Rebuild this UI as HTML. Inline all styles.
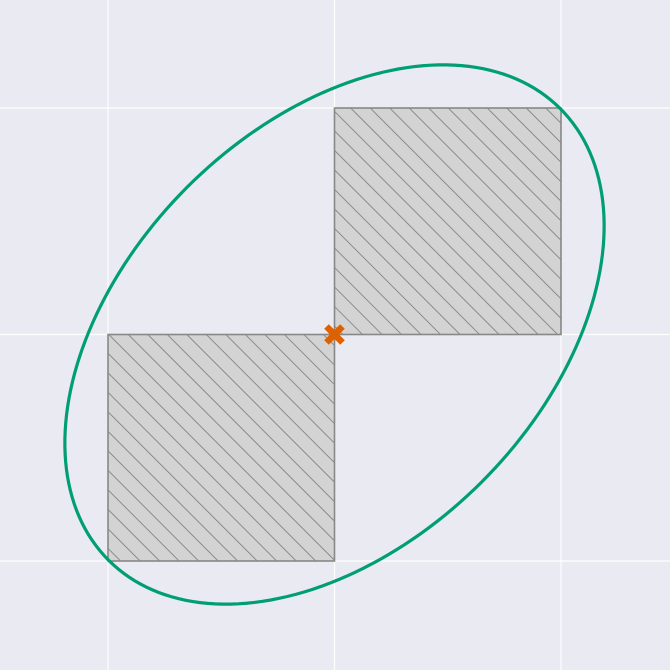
<!DOCTYPE html>
<html><head><meta charset="utf-8"><style>html,body{margin:0;padding:0;background:#eaeaf2}svg{display:block}</style></head>
<body>
<svg id="chart" width="670" height="670" viewBox="0 0 670 670" xmlns="http://www.w3.org/2000/svg">
<defs>
<pattern id="hatch" patternUnits="userSpaceOnUse" width="13.8" height="13.8" patternTransform="translate(350,108) rotate(-45)">
<rect width="13.8" height="13.8" fill="#d3d3d3"/>
<line x1="0" y1="0" x2="0" y2="13.8" stroke="#7f7f7f" stroke-width="1.7"/>
</pattern>
</defs>
<rect x="0" y="0" width="670" height="670" fill="#eaeaf2"/>
<g id="grid"></g>
<g id="marks"></g>
</svg>
<script>
const gridTicks = [-1, 0, 1];
const squaresX0 = [-1, 0];
const squaresY0 = [-1, 0];
const squareSize = [1, 1];
const ellipseCenter = [0, 0];
const ellipseAxes = [1.41, 0.92];
const ellipseAngle = [45];
const centerPoint = [0, 0];

const NS = 'http://www.w3.org/2000/svg';
const sx = v => 334.5 + v * 226.5;
const sy = v => 334.5 - v * 226.5;
function mk(tag, attrs, parent) {
  const e = document.createElementNS(NS, tag);
  for (const k in attrs) e.setAttribute(k, attrs[k]);
  parent.appendChild(e);
  return e;
}
const grid = document.getElementById('grid');
const marks = document.getElementById('marks');
gridTicks.forEach(t => {
  const v = mk('line', {x1: sx(t), x2: sx(t), y1: 0, y2: 670, stroke: '#fff', 'stroke-width': 1.2}, grid);
  
  
  const h = mk('line', {x1: 0, x2: 670, y1: sy(t), y2: sy(t), stroke: '#fff', 'stroke-width': 1.2}, grid);
  
  
});
squaresX0.forEach((x0, i) => {
  const y0 = squaresY0[i];
  const r = mk('rect', {x: sx(x0), y: sy(y0 + squareSize[i]), width: sx(x0 + squareSize[i]) - sx(x0), height: sy(y0) - sy(y0 + squareSize[i]), fill: 'url(#hatch)', stroke: '#888', 'stroke-width': 1.6}, marks);
  
  
});
const pts = [];
const th = ellipseAngle[0] * Math.PI / 180;
for (let k = 0; k <= 200; k++) {
  const t = k / 200 * 2 * Math.PI;
  const u = ellipseAxes[0] * Math.cos(t), w = ellipseAxes[1] * Math.sin(t);
  const x = ellipseCenter[0] + u * Math.cos(th) - w * Math.sin(th);
  const y = ellipseCenter[1] + u * Math.sin(th) + w * Math.cos(th);
  pts.push(sx(x).toFixed(2) + ',' + sy(y).toFixed(2));
}
const el = mk('polygon', {points: pts.join(' '), fill: 'none', stroke: '#009e73', 'stroke-width': 3.2}, marks);


const cx = sx(centerPoint[0]), cy = sy(centerPoint[1]), s = 8;
const m = mk('path', {d: `M${cx-s},${cy-s}L${cx+s},${cy+s}M${cx-s},${cy+s}L${cx+s},${cy-s}`, stroke: '#dd6100', 'stroke-width': 6.5, 'stroke-linecap': 'butt'}, marks);


</script>
</body></html>
